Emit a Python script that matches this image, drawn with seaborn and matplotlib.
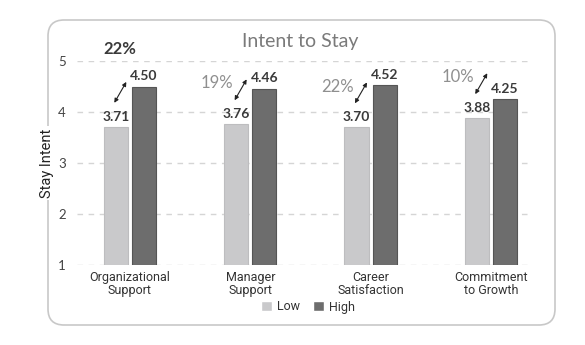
import matplotlib
matplotlib.use("Agg")
import matplotlib.pyplot as plt
import seaborn as sns
import pandas as pd
from matplotlib.patches import FancyBboxPatch

categories = ["Organizational\nSupport", "Manager\nSupport", "Career\nSatisfaction", "Commitment\nto Growth"]
low_values = [3.71, 3.76, 3.70, 3.88]
high_values = [4.50, 4.46, 4.52, 4.25]
pct_labels = ["22%", "19%", "22%", "10%"]
groups = ["Low", "High"]
y_ticks = [1, 2, 3, 4, 5]

df = pd.DataFrame({
    "category": categories * 2,
    "group": ["Low"] * 4 + ["High"] * 4,
    "value": low_values + high_values,
})

sns.set_theme(style="white")
narrow = ["Liberation Sans Narrow", "Roboto", "DejaVu Sans"]
plt.rcParams["font.family"] = ["Lato", "DejaVu Sans"]

W, H = 585, 345
fig = plt.figure(figsize=(W / 100, H / 100), dpi=100)
fig.patch.set_facecolor("white")

# rounded frame
box = FancyBboxPatch((48, H - 325), 507, 305,
                     boxstyle="round,pad=0,rounding_size=16",
                     transform=None, fc="white", ec="#c8c8c8", lw=1.2, zorder=-5)
fig.add_artist(box)

ax = fig.add_axes([77 / W, 1 - 265 / H, (533 - 77) / W, (265 - 61) / H])
ax.patch.set_alpha(0)

sns.barplot(data=df, x="category", y="value", hue="group", hue_order=groups,
            palette={"Low": "#c9c9cb", "High": "#6d6d6d"},
            width=0.467, gap=0.14, ax=ax, saturation=1)

for p in ax.containers[0]:
    p.set_edgecolor("#bdbdbf")
    p.set_linewidth(0.8)
for p in ax.containers[1]:
    p.set_edgecolor("#555555")
    p.set_linewidth(0.8)

ax.set_ylim(1, 5)
ax.set_xlim(-0.44, 3.35)
ax.set_yticks(y_ticks)
ax.set_yticklabels([str(t) for t in y_ticks], fontsize=9.5, color="#444444")
ax.tick_params(axis="both", length=0, pad=6)
ax.tick_params(axis="y", pad=8)
for lbl in ax.get_xticklabels():
    lbl.set_fontfamily(narrow)
    lbl.set_fontsize(9)
    lbl.set_color("#333333")
    lbl.set_linespacing(1.0)
ax.tick_params(axis="x", pad=4)

ax.set_axisbelow(True)
ax.yaxis.grid(True, ls=(0, (4, 4)), color="#d5d5d5", lw=1)
ax.xaxis.grid(False)
for s in ax.spines.values():
    s.set_visible(False)

ax.set_xlabel("")
ax.set_ylabel("Stay Intent", fontsize=10.5, color="#222222", family=narrow,
              bbox=dict(fc="white", ec="none", pad=2))
ax.yaxis.set_label_coords(-0.05, 0.5)

# value labels
for c in ax.containers:
    for p in c:
        h = p.get_height()
        ax.annotate(f"{h:.2f}", (p.get_x() + p.get_width() / 2, h),
                    xytext=(0, 3), textcoords="offset points",
                    ha="center", va="bottom", fontsize=10, fontweight="bold",
                    color="#3a3a3a", clip_on=False)

# arrows and percentage labels
for i, (lo, pct) in enumerate(zip(low_values, pct_labels)):
    ax.annotate("", xy=(i - 0.03, lo + 0.88), xytext=(i - 0.13, lo + 0.47),
                arrowprops=dict(arrowstyle="<|-|>", color="#222222", lw=0.8,
                                mutation_scale=6, shrinkA=0, shrinkB=0),
                annotation_clip=False)
    if i == 0:
        ax.text(i - 0.085, 5.24, pct, ha="center", va="center", fontsize=12,
                fontweight="bold", color="#3a3a3a", clip_on=False)
    else:
        ax.text(i - 0.14, lo + 0.80, pct, ha="right", va="center", fontsize=12,
                fontweight="normal", color="#8f8f8f", clip_on=False)

fig.text(300 / W, 1 - 42 / H, "Intent to Stay", ha="center", va="center",
         fontsize=14, fontweight="normal", color="#7a7a7a")

sns.move_legend(ax, "center", bbox_to_anchor=(308 / W, 1 - 307 / H),
                bbox_transform=fig.transFigure, ncol=2, frameon=False, title=None,
                handlelength=0.9, handleheight=0.9, handletextpad=0.4,
                columnspacing=1.0, prop={"family": narrow, "size": 9})
for t in ax.get_legend().get_texts():
    t.set_color("#333333")

fig.savefig("out.png", dpi=100, facecolor="white")
